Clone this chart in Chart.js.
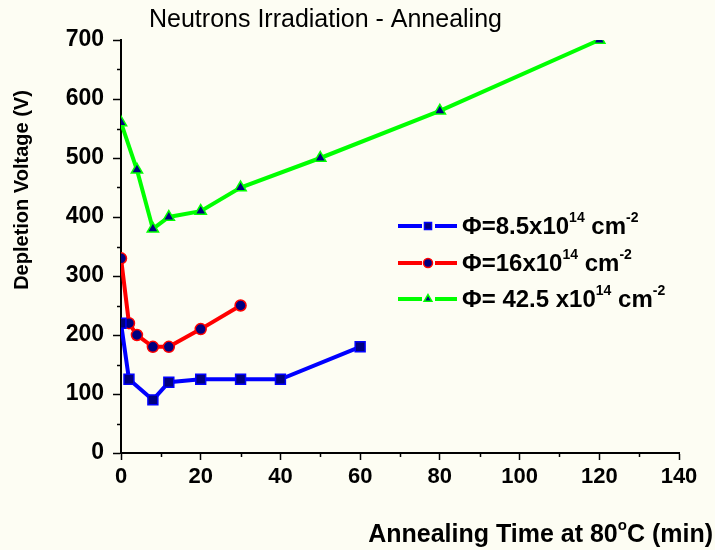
<!DOCTYPE html>
<html>
<head>
<meta charset="utf-8">
<script src="https://cdn.jsdelivr.net/npm/chart.js@4"></script>
<style>
  html, body { margin: 0; padding: 0; background: #fdfdf3; }
  #wrap { position: relative; width: 715px; height: 550px; }
</style>
</head>
<body>
<div id="wrap"><canvas id="c" width="715" height="550"></canvas></div>
<script>
// ---- data ----
const timesBlue  = [0, 2, 8, 12, 20, 30, 40, 60];
const voltBlue   = [220, 125, 90, 120, 125, 125, 125, 180];
const timesRed   = [0, 2, 4, 8, 12, 20, 30];
const voltRed    = [330, 220, 200, 180, 180, 210, 250];
const timesGreen = [0, 4, 8, 12, 20, 30, 50, 80, 120];
const voltGreen  = [560, 480, 380, 400, 410, 450, 500, 580, 700];

const seriesLabels = [
  [{t: 'Φ=8.5x10'}, {t: '14', sup: true}, {t: ' cm'}, {t: '-2', sup: true}],
  [{t: 'Φ=16x10'}, {t: '14', sup: true}, {t: ' cm'}, {t: '-2', sup: true}],
  [{t: 'Φ= 42.5 x10'}, {t: '14', sup: true}, {t: ' cm'}, {t: '-2', sup: true}]
];
const chartTitle = 'Neutrons Irradiation - Annealing';
const yTitle = 'Depletion Voltage (V)';
const xTitleParts = [{t: 'Annealing Time at 80'}, {t: 'o', sup: true}, {t: 'C (min)'}];
const xMajorTicks = [0, 20, 40, 60, 80, 100, 120, 140];
const yMajorTicks = [0, 100, 200, 300, 400, 500, 600, 700];

const FONT = '"Liberation Sans", Arial, sans-serif';

function pts(xs, ys) { return xs.map((x, i) => ({x: x, y: ys[i]})); }

function richWidth(ctx, parts, size) {
  let w = 0;
  parts.forEach(p => {
    ctx.font = 'bold ' + (p.sup ? Math.round(size * 0.6) : size) + 'px ' + FONT;
    w += ctx.measureText(p.t).width;
  });
  return w;
}
function drawRich(ctx, parts, x, y, size) {
  ctx.textBaseline = 'alphabetic';
  ctx.textAlign = 'left';
  parts.forEach(p => {
    const s = p.sup ? Math.round(size * 0.6) : size;
    ctx.font = 'bold ' + s + 'px ' + FONT;
    ctx.fillText(p.t, x, p.sup ? y - size * 0.5 : y);
    x += ctx.measureText(p.t).width;
  });
}

const decor = {
  id: 'decor',
  afterDraw(chart) {
    const ctx = chart.ctx;
    const xs = chart.scales.x, ys = chart.scales.y;
    ctx.save();
    ctx.fillStyle = '#000';
    ctx.strokeStyle = '#000';
    // minor ticks
    ctx.lineWidth = 1.5;
    for (let v = 50; v < 700; v += 100) {
      const py = Math.round(ys.getPixelForValue(v)) + 0.5;
      ctx.beginPath(); ctx.moveTo(xs.left - 4, py); ctx.lineTo(xs.left, py); ctx.stroke();
    }
    for (let v = 10; v < 140; v += 20) {
      const px = Math.round(xs.getPixelForValue(v)) + 0.5;
      ctx.beginPath(); ctx.moveTo(px, ys.bottom); ctx.lineTo(px, ys.bottom + 4); ctx.stroke();
    }
    // chart title
    ctx.font = '25px ' + FONT;
    ctx.textAlign = 'left';
    ctx.textBaseline = 'alphabetic';
    ctx.fillText(chartTitle, 149, 27);
    // y title
    ctx.save();
    ctx.translate(28, 190);
    ctx.rotate(-Math.PI / 2);
    ctx.font = 'bold 20px ' + FONT;
    ctx.textAlign = 'center';
    ctx.fillText(yTitle, 0, 0);
    ctx.restore();
    // x title (right aligned)
    const w = richWidth(ctx, xTitleParts, 25);
    drawRich(ctx, xTitleParts, 713 - w, 542, 25);
    // legend
    const rows = [226, 263, 299];
    chart.data.datasets.forEach((ds, i) => {
      const y = rows[i];
      ctx.strokeStyle = ds.borderColor;
      ctx.lineWidth = 4;
      ctx.beginPath(); ctx.moveTo(398, y); ctx.lineTo(422, y); ctx.stroke();
      ctx.beginPath(); ctx.moveTo(435, y); ctx.lineTo(457, y); ctx.stroke();
      ctx.fillStyle = ds.pointBackgroundColor;
      ctx.strokeStyle = ds.borderColor;
      ctx.lineWidth = 1.5;
      Chart.helpers.drawPoint(ctx, {pointStyle: ds.pointStyle, radius: ds.pointStyle === 'rect' ? 5 : 4.5, rotation: 0, borderWidth: 1.5}, 428, y);
      ctx.fillStyle = '#000';
      drawRich(ctx, seriesLabels[i], 462, y + 8, 24);
    });
    ctx.restore();
  }
};

new Chart(document.getElementById('c'), {
  type: 'scatter',
  data: {
    datasets: [
      {label: 'blue', data: pts(timesBlue, voltBlue), showLine: true,
       borderColor: '#0000ff', borderWidth: 4, pointStyle: 'rect', pointRadius: 7,
       pointBackgroundColor: '#000080', pointBorderColor: '#0000ff', pointBorderWidth: 1.5},
      {label: 'red', data: pts(timesRed, voltRed), showLine: true,
       borderColor: '#ff0000', borderWidth: 4, pointStyle: 'circle', pointRadius: 5.5,
       pointBackgroundColor: '#000080', pointBorderColor: '#ff0000', pointBorderWidth: 1.5},
      {label: 'green', data: pts(timesGreen, voltGreen), showLine: true,
       borderColor: '#00ff00', borderWidth: 4, pointStyle: 'triangle', pointRadius: 6.5,
       pointBackgroundColor: '#000080', pointBorderColor: '#00ff00', pointBorderWidth: 1.5}
    ]
  },
  options: {
    responsive: false,
    animation: false,
    layout: {padding: {top: 40, right: 36, left: 0, bottom: 0}},
    plugins: {legend: {display: false}, tooltip: {enabled: false}, title: {display: false}},
    scales: {
      x: {
        type: 'linear', min: 0, max: 140,
        afterBuildTicks: s => { s.ticks = xMajorTicks.map(v => ({value: v})); },
        afterFit: s => { s.height = 97; },
        border: {display: true, color: '#000', width: 2},
        grid: {display: true, drawOnChartArea: false, drawTicks: true, tickLength: 7, tickColor: '#000', tickWidth: 1.5},
        ticks: {color: '#000', padding: 4, maxRotation: 0, font: {family: FONT, size: 22, weight: 'bold'}}
      },
      y: {
        type: 'linear', min: 0, max: 700,
        afterBuildTicks: s => { s.ticks = yMajorTicks.map(v => ({value: v})); },
        afterFit: s => { s.width = 121; },
        border: {display: true, color: '#000', width: 2},
        grid: {display: true, drawOnChartArea: false, drawTicks: true, tickLength: 8, tickColor: '#000', tickWidth: 1.5},
        ticks: {color: '#000', padding: 9, font: {family: FONT, size: 23, weight: 'bold'}}
      }
    }
  },
  plugins: [decor]
});
</script>
</body>
</html>
